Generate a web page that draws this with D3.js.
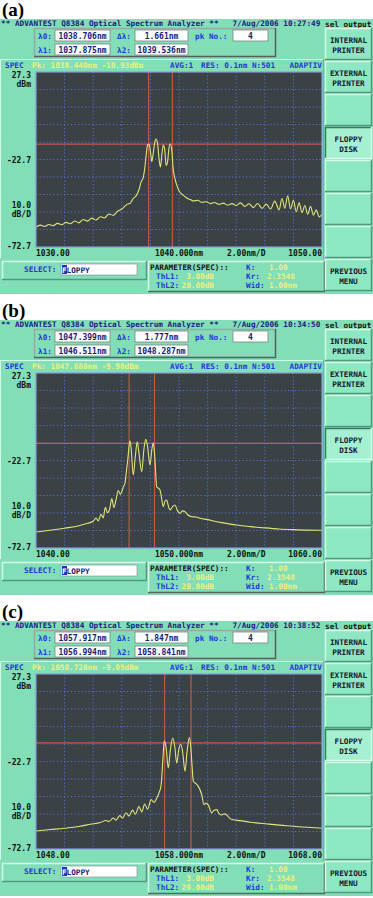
<!DOCTYPE html>
<html>
<head>
<meta charset="utf-8">
<script src="https://cdn.jsdelivr.net/npm/d3@7"></script>
<style>
  body { margin: 0; background: #fff; }
  svg { display: block; }
  text { font-family: "DejaVu Sans Mono", monospace; font-weight: bold; font-size: 7.7px; white-space: pre; }
</style>
</head>
<body>
<svg width="373" height="898"></svg>
<script>
// screen values
const panelLabels = ['(a)', '(b)', '(c)'];
const clockTimes = ['10:27:49', '10:34:50', '10:38:52'];
const lambda0 = ['1038.706nm', '1047.399nm', '1057.917nm'];
const deltaLambda = ['1.661nm', '1.777nm', '1.847nm'];
const lambda1 = [1037.875, 1046.511, 1056.994];
const lambda2 = [1039.536, 1048.287, 1058.841];
const peakWl = [1038.440, 1047.680, 1058.720];
const peakDb = [-10.93, -9.90, -9.05];
const spanStart = [1030, 1040, 1048];
const spanEnd = [1050, 1060, 1068];
const xTickLabels = [
  ['1030.00', '1040.000nm', '2.00nm/D', '1050.00'],
  ['1040.00', '1050.000nm', '2.00nm/D', '1060.00'],
  ['1048.00', '1058.000nm', '2.00nm/D', '1068.00']
];
const levelTop = 27.3, levelBottom = -72.7;
const menuButtons = [['INTERNAL', 'PRINTER'], ['EXTERNAL', 'PRINTER'], [], ['FLOPPY', 'DISK'], [], [], [], ['PREVIOUS', 'MENU']];

// trace (a)
const wlA = [1030.0, 1030.3, 1030.6, 1030.9, 1031.2, 1031.5, 1031.8, 1032.1, 1032.4, 1032.7,
  1033.0, 1033.3, 1033.6, 1033.9, 1034.2, 1034.5, 1034.8, 1035.1, 1035.4, 1035.7,
  1036.0, 1036.2, 1036.4, 1036.6, 1036.8, 1037.0, 1037.2, 1037.35, 1037.5, 1037.6,
  1037.7, 1037.8, 1037.9, 1038.0, 1038.1, 1038.2, 1038.3, 1038.4, 1038.5, 1038.6,
  1038.7, 1038.8, 1038.9, 1039.0, 1039.1, 1039.2, 1039.3, 1039.4, 1039.5, 1039.6,
  1039.7, 1039.85, 1040.0, 1040.2, 1040.4, 1040.6, 1040.8, 1041.0, 1041.3, 1041.6,
  1041.9, 1042.2, 1042.5, 1042.8, 1043.1, 1043.4, 1043.7, 1044.0, 1044.3, 1044.6,
  1044.9, 1045.2, 1045.5, 1045.8, 1046.1, 1046.4, 1046.7, 1047.0, 1047.2, 1047.4,
  1047.6, 1047.8, 1048.0, 1048.2, 1048.4, 1048.6, 1048.8, 1049.0, 1049.2, 1049.4,
  1049.6, 1049.8, 1050.0];
const dbA = [-61.5, -60.2, -61.0, -59.8, -60.5, -59.2, -60.0, -58.6, -59.4, -57.8,
  -58.9, -57.0, -57.9, -56.2, -57.3, -55.4, -56.1, -53.8, -54.6, -52.3,
  -51.0, -49.5, -48.2, -47.6, -45.0, -43.5, -40.0, -35.5, -33.0, -28.0,
  -20.5, -14.5, -13.8, -18.0, -24.0, -19.0, -13.0, -11.0, -13.5, -22.0,
  -27.0, -20.0, -14.5, -17.0, -26.0, -24.0, -16.0, -13.8, -18.0, -28.5,
  -33.0, -37.5, -40.5, -42.5, -43.8, -45.0, -45.6, -46.4, -46.0, -47.2,
  -46.8, -47.9, -47.3, -48.4, -47.6, -48.8, -47.9, -49.0, -47.5, -49.5,
  -48.0, -50.2, -47.8, -50.6, -48.2, -51.0, -46.5, -51.5, -45.0, -50.5,
  -43.5, -51.0, -46.0, -52.5, -47.5, -53.0, -49.0, -54.0, -49.5, -54.5,
  -51.5, -55.5, -54.0];

// trace (b)
const wlB = [1040.0, 1041.0, 1042.0, 1043.0, 1043.6, 1044.0, 1044.2, 1044.35, 1044.55, 1044.7,
  1044.85, 1045.0, 1045.15, 1045.3, 1045.45, 1045.6, 1045.75, 1045.9, 1046.0, 1046.1,
  1046.22, 1046.32, 1046.42, 1046.5, 1046.57, 1046.65, 1046.8, 1046.95, 1047.08, 1047.2,
  1047.39, 1047.55, 1047.67, 1047.8, 1047.97, 1048.1, 1048.2, 1048.3, 1048.44, 1048.55,
  1048.67, 1048.78, 1048.9, 1049.02, 1049.14, 1049.25, 1049.37, 1049.55, 1049.72, 1049.9,
  1050.07, 1050.25, 1050.42, 1050.65, 1050.89, 1051.2, 1051.47, 1052.0, 1052.5, 1053.0,
  1054.0, 1055.0, 1056.0, 1057.0, 1058.0, 1059.0, 1060.0];
const dbB = [-63.6, -62.6, -61.4, -60.0, -58.6, -57.4, -55.6, -57.2, -53.4, -55.5,
  -49.5, -52.5, -50.5, -44.5, -49.6, -45.0, -39.8, -42.0, -40.5, -38.0,
  -35.7, -29.0, -22.0, -15.0, -11.4, -15.5, -31.0, -20.0, -12.0, -18.5,
  -29.1, -16.0, -10.6, -14.5, -25.3, -16.5, -12.6, -20.0, -37.7, -38.5,
  -39.6, -44.0, -49.1, -46.0, -45.3, -48.5, -51.0, -49.0, -48.1, -51.5,
  -52.9, -51.5, -52.0, -54.0, -54.8, -55.0, -55.7, -56.5, -57.4, -58.2,
  -59.6, -60.5, -61.2, -61.8, -62.2, -62.5, -62.6];

// trace (c)
const wlC = [1048.0, 1049.0, 1050.0, 1051.0, 1051.8, 1052.5, 1052.9, 1053.1, 1053.4, 1053.6,
  1053.85, 1054.05, 1054.3, 1054.5, 1054.75, 1054.95, 1055.2, 1055.4, 1055.6, 1055.8,
  1056.05, 1056.25, 1056.45, 1056.6, 1056.75, 1056.88, 1056.97, 1057.1, 1057.25, 1057.4,
  1057.56, 1057.7, 1057.84, 1057.98, 1058.12, 1058.25, 1058.42, 1058.56, 1058.72, 1058.82,
  1058.92, 1059.0, 1059.2, 1059.35, 1059.59, 1059.75, 1059.9, 1060.05, 1060.29, 1060.45,
  1060.64, 1060.8, 1060.99, 1061.15, 1061.34, 1061.55, 1061.8, 1062.27, 1063.0, 1064.2,
  1065.5, 1067.0, 1068.0];
const dbC = [-62.4, -61.6, -60.8, -59.8, -58.6, -57.6, -56.4, -57.0, -55.0, -56.2,
  -53.6, -55.0, -52.0, -53.8, -50.5, -52.8, -48.5, -51.5, -47.0, -50.0,
  -44.5, -46.0, -43.6, -40.7, -36.1, -20.7, -10.8, -15.0, -26.4, -16.0,
  -9.3, -14.0, -23.6, -16.0, -12.8, -17.0, -28.3, -17.5, -9.05, -14.0,
  -26.0, -34.0, -35.5, -36.9, -41.7, -47.4, -46.5, -47.6, -52.1, -50.5,
  -50.2, -52.5, -53.3, -52.6, -53.3, -55.2, -56.0, -56.5, -57.4, -58.4,
  -59.4, -60.3, -60.8];

const traceWl = [wlA, wlB, wlC];
const traceDb = [dbA, dbB, dbC];
const panelTop = [0, 301, 602];

const svg = d3.select('svg');
svg.append('rect').attr('width', 373).attr('height', 898).attr('fill', '#fff');

const BG = '#82deb7', BTN = '#8ce7c2', LIGHT = '#d4fbe9', DARK = '#4f9a80';
const NAVY = '#1a2080', BLUE = '#2236d8', YEL = '#eef07a', INK = '#111';

function bevel(g, x, y, w, h, fill, light, dark) {
  g.append('rect').attr('x', x).attr('y', y).attr('width', w).attr('height', h).attr('fill', fill);
  g.append('path').attr('d', `M${x + 0.5},${y + h}V${y + 0.5}H${x + w}`)
    .attr('fill', 'none').attr('stroke', light).attr('stroke-width', 1.5);
  g.append('path').attr('d', `M${x + w - 0.5},${y}V${y + h - 0.5}H${x}`)
    .attr('fill', 'none').attr('stroke', dark).attr('stroke-width', 1.5);
}

function label(g, x, y, s, fill, anchor, size) {
  return g.append('text').attr('x', x).attr('y', y).text(s)
    .attr('fill', fill).attr('text-anchor', anchor || 'start')
    .style('font-size', size ? size + 'px' : null);
}

function drawPanel(i) {
  const g = svg.append('g').attr('transform', `translate(0,${panelTop[i]})`);

  g.append('text').attr('x', 2).attr('y', 16).text(panelLabels[i])
    .style('font-family', '"Liberation Serif", serif').style('font-size', '19px').attr('fill', '#000');

  g.append('rect').attr('x', 0).attr('y', 19).attr('width', 373).attr('height', 275).attr('fill', BG);

  label(g, 1, 26, '** ADVANTEST Q8384 Optical Spectrum Analyzer **   7/Aug/2006 ' + clockTimes[i], NAVY);
  label(g, 325, 27, 'sel output', INK);

  // marker readout box
  bevel(g, 34, 28, 242, 29, BG, '#9aa8a2', '#55605c');
  const boxes = [
    [38, 39, 'λ0:', 55, 55, lambda0[i]],
    [117, 39, 'Δλ:', 135, 53, deltaLambda[i]],
    [195, 39, 'pk No.:', 233, 35, '4'],
    [38, 53, 'λ1:', 55, 55, lambda1[i].toFixed(3) + 'nm'],
    [117, 53, 'λ2:', 135, 53, lambda2[i].toFixed(3) + 'nm']
  ];
  boxes.forEach(b => {
    label(g, b[0], b[1], b[2], BLUE);
    g.append('rect').attr('x', b[3]).attr('y', b[1] - 9).attr('width', b[4]).attr('height', 11)
      .attr('fill', '#fbfffd').attr('stroke', '#7a8480').attr('stroke-width', 0.8);
    label(g, b[3] + b[4] / 2, b[1], b[5], NAVY, 'middle', 8);
  });

  // plot block
  g.append('path').attr('d', 'M0.5,258V59.5H323').attr('fill', 'none').attr('stroke', LIGHT);
  g.append('line').attr('x1', 323.5).attr('x2', 323.5).attr('y1', 59).attr('y2', 259)
    .attr('stroke', '#8a98e0').attr('stroke-width', 1.2);
  label(g, 5, 68, 'SPEC', BLUE);
  label(g, 32, 68, 'Pk: ' + peakWl[i].toFixed(3) + 'nm ' + peakDb[i].toFixed(2) + 'dBm', YEL);
  label(g, 170, 68, 'AVG:1', BLUE);
  label(g, 201, 68, 'RES: 0.1nm N:501', BLUE);
  label(g, 322, 68, 'ADAPTIV', BLUE, 'end');

  const x = d3.scaleLinear().domain([spanStart[i], spanEnd[i]]).range([36, 322]);
  const y = d3.scaleLinear().domain([levelBottom, levelTop]).range([247, 72]);

  g.append('rect').attr('x', 36).attr('y', 72).attr('width', 286).attr('height', 175)
    .attr('fill', '#3a4246');

  const gridX = d3.range(1, 10).map(k => spanStart[i] + k * (spanEnd[i] - spanStart[i]) / 10);
  const gridY = d3.range(1, 10).map(k => levelBottom + k * 10);
  g.append('g').selectAll('line').data(gridX).join('line')
    .attr('x1', d => x(d)).attr('x2', d => x(d)).attr('y1', 72).attr('y2', 247)
    .attr('stroke', '#5a6fd2').attr('stroke-dasharray', '1.2,2.3');
  g.append('g').selectAll('line').data(gridY).join('line')
    .attr('y1', d => y(d)).attr('y2', d => y(d)).attr('x1', 36).attr('x2', 322)
    .attr('stroke', '#5a6fd2').attr('stroke-dasharray', '1.2,2.3');

  // markers
  [lambda1[i], lambda2[i]].forEach(w => {
    g.append('line').attr('x1', x(w)).attr('x2', x(w)).attr('y1', 72).attr('y2', 247)
      .attr('stroke', '#c85a46').attr('stroke-width', 1.1);
  });
  g.append('line').attr('x1', 36).attr('x2', 322).attr('y1', y(peakDb[i] - 3)).attr('y2', y(peakDb[i] - 3))
    .attr('stroke', '#c85a46').attr('stroke-width', 1.1);

  const pts = traceWl[i].map((w, k) => [w, traceDb[i][k]]);
  g.append('path').datum(pts)
    .attr('d', d3.line().x(d => x(d[0])).y(d => y(d[1])).curve(d3.curveMonotoneX))
    .attr('fill', 'none').attr('stroke', '#e2e47a').attr('stroke-width', 1.1);

  g.append('rect').attr('x', 36).attr('y', 72).attr('width', 286).attr('height', 175)
    .attr('fill', 'none').attr('stroke', '#8a98e0').attr('stroke-width', 1.2);

  // level labels
  label(g, 31, y(levelTop) + 6, levelTop.toFixed(1), INK, 'end', 8);
  label(g, 31, y(levelTop) + 15, 'dBm', INK, 'end', 8);
  label(g, 31, y(levelTop - 50) + 3.5, (levelTop - 50).toFixed(1), INK, 'end', 8);
  label(g, 31, y(-50) + 1, '10.0', INK, 'end', 8);
  label(g, 31, y(-50) + 10, 'dB/D', INK, 'end', 8);
  label(g, 31, y(levelBottom) + 2, levelBottom.toFixed(1), INK, 'end', 8);

  const xl = xTickLabels[i];
  label(g, x(spanStart[i]), 256, xl[0], INK, 'start', 8);
  label(g, x((spanStart[i] + spanEnd[i]) / 2), 256, xl[1], INK, 'middle', 8);
  label(g, x(spanStart[i] + 14.7), 256, xl[2], INK, 'middle', 8);
  label(g, x(spanEnd[i]), 256, xl[3], INK, 'end', 8);

  // select row
  bevel(g, 2, 261, 145, 19, BG, LIGHT, DARK);
  label(g, 24, 272, 'SELECT:', BLUE);
  g.append('rect').attr('x', 61).attr('y', 264).attr('width', 76).attr('height', 11)
    .attr('fill', '#fff').attr('stroke', '#889').attr('stroke-width', 0.6);
  g.append('rect').attr('x', 62).attr('y', 265).attr('width', 5).attr('height', 9).attr('fill', '#2030c8');
  label(g, 62, 273, 'F', '#fff');
  label(g, 66.6, 273, 'LOPPY', NAVY);

  // parameter box
  bevel(g, 148, 261, 177, 31, BG, LIGHT, '#5a6662');
  label(g, 150, 270, 'PARAMETER(SPEC)::', INK);
  label(g, 156, 279, 'ThL1:', BLUE);
  label(g, 214, 279, '3.00dB', YEL, 'end');
  label(g, 156, 288, 'ThL2:', BLUE);
  label(g, 214, 288, '20.00dB', YEL, 'end');
  label(g, 246, 270, 'K:', BLUE);
  label(g, 269, 270, '1.00', YEL);
  label(g, 246, 279, 'Kr:', BLUE);
  label(g, 267, 279, '2.3548', YEL);
  label(g, 246, 288, 'Wid:', BLUE);
  label(g, 269, 288, '1.00nm', YEL);

  // soft keys
  menuButtons.forEach((m, k) => {
    const by = 28 + k * 33;
    const pressed = m[0] === 'FLOPPY';
    if (pressed) bevel(g, 325, by, 47, 32, '#a4f0d1', '#3e7a66', '#e0fff0');
    else bevel(g, 325, by, 47, 32, BTN, LIGHT, DARK);
    m.forEach((s, j) => label(g, 348.5, by + 15 + j * 9.5, s, '#141830', 'middle'));
  });
}

[0, 1, 2].forEach(drawPanel);
</script>
</body>
</html>
